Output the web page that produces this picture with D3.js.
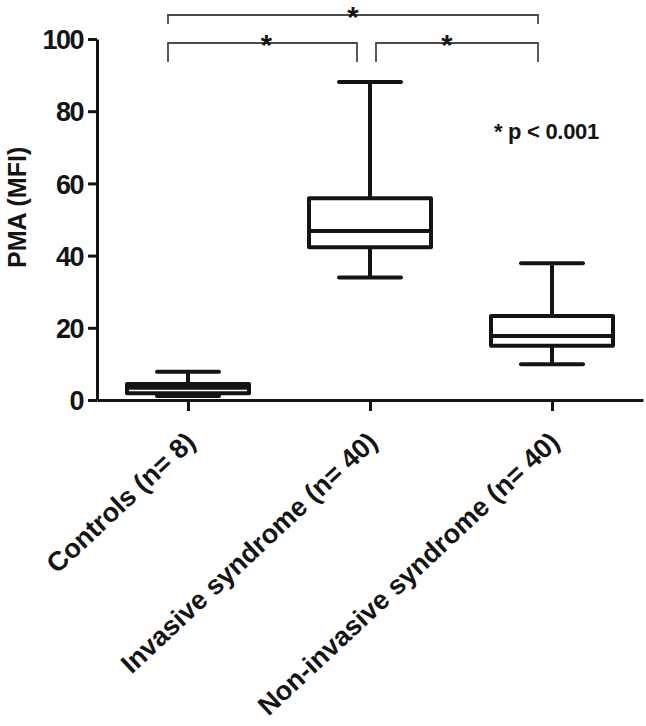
<!DOCTYPE html>
<html>
<head>
<meta charset="utf-8">
<script src="https://cdn.jsdelivr.net/npm/d3@7"></script>
<style>
  html, body { margin: 0; padding: 0; background: #fff; }
  svg { display: block; font-family: "Liberation Sans", Arial, sans-serif; }
</style>
</head>
<body>
<div id="chart"></div>
<script>
const groups = ['Controls (n= 8)', 'Invasive syndrome (n= 40)', 'Non-invasive syndrome (n= 40)']
const whiskerLow = [1.1, 33.9, 9.9]
const q1 = [1.9, 42.3, 15.0]
const median = [3.4, 46.8, 17.7]
const q3 = [4.4, 55.9, 23.3]
const whiskerHigh = [7.8, 88.1, 37.9]
const yTicks = [0, 20, 40, 60, 80, 100]
const comparisons = [[0, 1], [1, 2], [0, 2]]
const pText = '* p < 0.001'

const width = 646, height = 726
const ink = '#141414'

const svg = d3.select('#chart').append('svg').attr('width', width).attr('height', height)

const x = d3.scalePoint().domain(d3.range(groups.length)).range([97, 643]).padding(0.5)
const y = d3.scaleLinear().domain([0, 100]).range([400, 39])

// y axis
const yAxis = svg.append('g')
  .attr('transform', 'translate(97,0)')
  .call(d3.axisLeft(y).tickValues(yTicks).tickSize(9).tickPadding(5).tickSizeOuter(0))
yAxis.select('.domain').attr('stroke', ink).attr('stroke-width', 3)
yAxis.selectAll('.tick line').attr('stroke', ink).attr('stroke-width', 3)
yAxis.selectAll('.tick text')
  .attr('fill', ink).attr('font-size', 27).attr('font-weight', 'bold')
  .attr('letter-spacing', -1.5).attr('dy', '0.36em')

// x axis
const xAxis = svg.append('g')
  .attr('transform', `translate(0,${y(0)})`)
  .call(d3.axisBottom(x).tickSize(11).tickSizeOuter(0).tickFormat(() => ''))
xAxis.select('.domain').attr('stroke', ink).attr('stroke-width', 3)
xAxis.selectAll('.tick line').attr('stroke', ink).attr('stroke-width', 3)

svg.append('g').selectAll('text')
  .data(groups)
  .join('text')
  .attr('transform', (d, i) => `translate(${x(i) + 9},${y(0) + 44}) rotate(-43)`)
  .attr('text-anchor', 'end')
  .attr('font-size', 27).attr('font-weight', 'bold').attr('fill', ink)
  .text(d => d)

// y label
svg.append('text')
  .attr('transform', `translate(26,${y(60) + 24}) rotate(-90)`)
  .attr('text-anchor', 'middle')
  .attr('font-size', 25).attr('font-weight', 'bold').attr('fill', ink)
  .text('PMA (MFI)')

// boxes
const boxHalf = 61, capHalf = 31
const boxes = svg.append('g').attr('stroke', ink).attr('stroke-width', 4).attr('fill', 'none')
groups.forEach((g, i) => {
  const cx = x(i)
  const b = boxes.append('g')
  b.append('line').attr('x1', cx).attr('x2', cx).attr('y1', y(whiskerHigh[i])).attr('y2', y(q3[i]))
  b.append('line').attr('x1', cx).attr('x2', cx).attr('y1', y(q1[i])).attr('y2', y(whiskerLow[i]))
  b.append('line').attr('x1', cx - capHalf).attr('x2', cx + capHalf)
    .attr('y1', y(whiskerHigh[i])).attr('y2', y(whiskerHigh[i])).attr('stroke-linecap', 'round')
  b.append('line').attr('x1', cx - capHalf).attr('x2', cx + capHalf)
    .attr('y1', y(whiskerLow[i])).attr('y2', y(whiskerLow[i])).attr('stroke-linecap', 'round')
  b.append('rect')
    .attr('x', cx - boxHalf).attr('width', boxHalf * 2)
    .attr('y', y(q3[i])).attr('height', y(q1[i]) - y(q3[i]))
    .attr('fill', '#fff').attr('stroke-linejoin', 'round')
  b.append('line').attr('x1', cx - boxHalf).attr('x2', cx + boxHalf)
    .attr('y1', y(median[i])).attr('y2', y(median[i]))
})

// significance brackets
const bracketLevel = (a, b) => (b - a > 1 ? 1 : 0)
const endInset = { left: [-20, 6, 0], right: [0, -13, -14] }
const br = svg.append('g')
comparisons.forEach(([a, b]) => {
  const lvl = bracketLevel(a, b)
  const top = lvl ? 15 : 43
  const legs = lvl ? 24 : 62
  const x1 = x(a) + endInset.left[a]
  const x2 = x(b) + endInset.right[b]
  br.append('path')
    .attr('d', `M${x1},${legs}V${top}H${x2}V${legs}`)
    .attr('fill', 'none').attr('stroke', '#4a4a4a').attr('stroke-width', 1.8)
  br.append('text')
    .attr('x', (x1 + x2) / 2 + (lvl ? 0 : (a === 0 ? 4 : -10)))
    .attr('y', top + 12)
    .attr('text-anchor', 'middle')
    .attr('font-size', 29).attr('font-weight', 'bold').attr('fill', ink)
    .text('*')
})

svg.append('text')
  .attr('x', 494).attr('y', 139)
  .attr('font-size', 22).attr('font-weight', 'bold').attr('fill', ink)
  .attr('letter-spacing', -0.3)
  .text(pText)
</script>
</body>
</html>
